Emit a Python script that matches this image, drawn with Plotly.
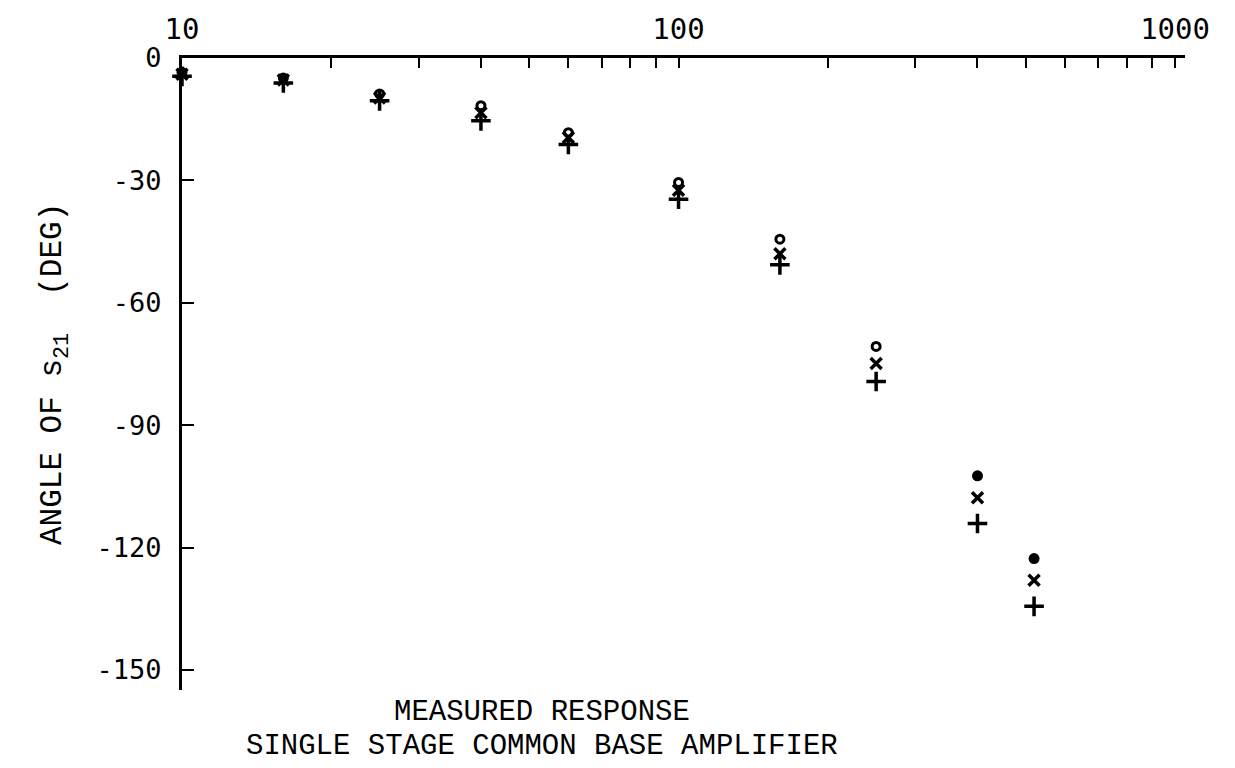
import plotly.graph_objects as go

# Frequency (MHz) and angle of S21 (deg) for three measured series
freq = [10, 16, 25, 40, 60, 100, 160, 250, 400, 520]
angle_circle = [-3.5, -4.9, -8.8, -11.7, -18.3, -30.5, -44.4, -70.7, -102.4, -122.7]
angle_x = [-4.0, -5.4, -9.8, -13.4, -19.5, -32.4, -48.0, -74.9, -107.8, -128.0]
angle_plus = [-4.5, -6.1, -10.5, -15.4, -21.2, -34.6, -50.7, -79.3, -114.1, -134.4]

x_tickvals = [10, 100, 1000]
x_ticktext = ["10", "100", "1000"]
x_minor = [20, 30, 40, 50, 60, 70, 80, 90, 200, 300, 400, 500, 600, 700, 800, 900]
y_tickvals = [0, -30, -60, -90, -120, -150]
y_ticktext = ["0", "-30", "-60", "-90", "-120", "-150"]

circle_symbols = ["circle-open"] * 8 + ["circle"] * 2

fig = go.Figure()
fig.add_trace(go.Scatter(
    x=freq, y=angle_circle, mode="markers", cliponaxis=False,
    marker=dict(symbol=circle_symbols, size=8, color="black",
                line=dict(color="black", width=3)),
))
fig.add_trace(go.Scatter(
    x=freq, y=angle_x, mode="markers", cliponaxis=False,
    marker=dict(symbol="x-thin-open", size=11, color="black",
                line=dict(color="black", width=3.5)),
))
fig.add_trace(go.Scatter(
    x=freq, y=angle_plus, mode="markers", cliponaxis=False,
    marker=dict(symbol="cross-thin-open", size=14, color="black",
                line=dict(color="black", width=3.5)),
))

L, R, T, B = 182, 50, 55, 78
W, H = 1235, 768
pw = W - L - R
ph = H - T - B

fig.update_layout(
    width=W, height=H,
    margin=dict(l=L, r=R, t=T, b=B),
    paper_bgcolor="white", plot_bgcolor="white",
    showlegend=False,
    font=dict(family="DejaVu Sans Mono", color="black"),
)
fig.update_xaxes(
    type="log", side="top", range=[1, 3.02],
    showgrid=False, zeroline=False,
    showline=True, linecolor="black", linewidth=3,
    tickmode="array", tickvals=x_tickvals, ticktext=x_ticktext,
    ticks="inside", ticklen=10, tickwidth=2, tickcolor="black",
    tickfont=dict(family="DejaVu Sans Mono", size=29, color="black"),
    ticklabelstandoff=4,
    minor=dict(tickmode="array", tickvals=x_minor, ticks="inside",
               ticklen=10, tickwidth=2, tickcolor="black", showgrid=False),
)
fig.update_yaxes(
    range=[-154.9, 0],
    showgrid=False, zeroline=False,
    showline=True, linecolor="black", linewidth=3,
    tickmode="array", tickvals=y_tickvals, ticktext=y_ticktext,
    ticks="inside", ticklen=12, tickwidth=2, tickcolor="black",
    tickfont=dict(family="DejaVu Sans Mono", size=27, color="black"),
    ticklabelstandoff=12,
)

def px_to_paper_x(px):
    return (px - L) / pw

def px_to_paper_y(py):
    return (H - B - py) / ph

fig.add_annotation(
    text="ANGLE OF s<sub>21</sub>  (DEG)", textangle=-90,
    xref="paper", yref="paper", x=px_to_paper_x(55), y=0.5,
    xanchor="center", yanchor="middle", showarrow=False,
    font=dict(family="Liberation Mono", size=31, color="black"),
)
fig.add_annotation(
    text="MEASURED RESPONSE",
    xref="paper", yref="paper", x=px_to_paper_x(542), y=px_to_paper_y(713),
    xanchor="center", yanchor="middle", showarrow=False,
    font=dict(family="Liberation Mono", size=29, color="black"),
)
fig.add_annotation(
    text="SINGLE STAGE COMMON BASE AMPLIFIER",
    xref="paper", yref="paper", x=px_to_paper_x(542), y=px_to_paper_y(747),
    xanchor="center", yanchor="middle", showarrow=False,
    font=dict(family="Liberation Mono", size=29, color="black"),
)

fig.write_html("out.html")
